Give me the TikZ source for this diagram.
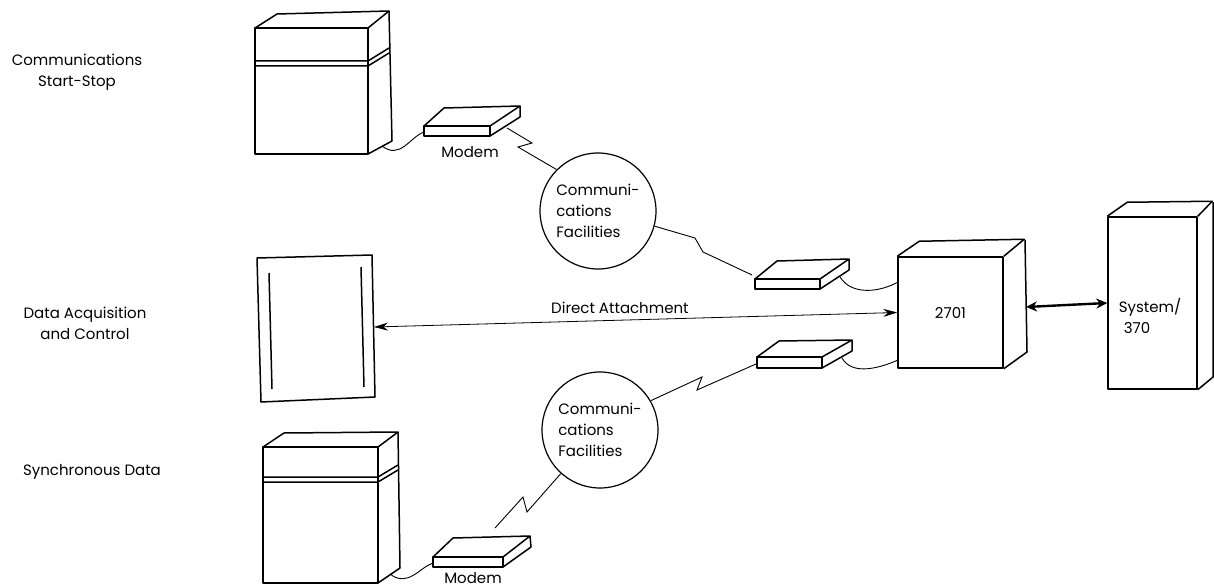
\documentclass[tikz,border=0pt]{standalone}
\usepackage{fontspec}
\setmainfont{Poppins}
\usetikzlibrary{arrows.meta}

\begin{document}
\begin{tikzpicture}[x=1pt,y=-1pt,
        unit/.style={line width=1.5pt,line join=round},
        cable/.style={line width=0.9pt},
        bolt/.style={line width=0.9pt},
        txt/.style={font=\fontsize{15}{21}\selectfont},
        lbl/.style={txt,align=center},
        facility/.style={circle,draw,line width=1.2pt,minimum size=116pt,inner sep=0pt,
            align=left,txt}]
    \useasboundingbox (0,0) rectangle (1214,588);

    % terminal types on the left
    \node [lbl] (ss) at (77,72) {Communications\\Start-Stop};
    \node [lbl] (dac) at (85,323) {Data Acquisition\\and Control};
    \node [lbl] (sync) at (92,472) {Synchronous Data};

    % start-stop terminal
    \draw [unit] (255,28) rectangle (368,154);
    \draw [unit] (255,28)--(277,14)--(389,11)--(368,28);
    \draw [unit] (389,11)--(392,141)--(368,154);
    \draw [unit] (255,61)--(368,61)--(389,48) (255,66)--(368,66)--(389,53);
    \coordinate (t1) at (382,146);

    % data acquisition unit
    \draw [unit] (257,258)--(372,255)--(375,397)--(261,402)--cycle;
    \draw [unit] (269,273)--(272,389) (361,267)--(364,387);
    \coordinate (da) at (374,327);

    % synchronous terminal
    \draw [unit] (263,447) rectangle (378,583);
    \draw [unit] (263,447)--(284,433)--(398,432)--(378,447);
    \draw [unit] (398,432)--(400,568)--(378,583);
    \draw [unit] (263,477)--(378,477)--(398,465) (263,482)--(378,482)--(398,470);
    \coordinate (t3) at (390,574);

    % modems
    \draw [unit] (424,126) rectangle (490,136);
    \draw [unit] (424,126)--(444,108)--(520,106)--(490,126) (520,106)--(520,117)--(490,136);
    \node [lbl] (mlbl1) at (470,152) {Modem};
    \coordinate (m1w) at (424,132);
    \coordinate (m1e) at (507,128);

    \draw [unit] (755,279) rectangle (820,289);
    \draw [unit] (755,279)--(777,261)--(849,259)--(820,279) (849,259)--(849,270)--(820,289);
    \coordinate (m2w) at (752,275);
    \coordinate (m2e) at (840,277);

    \draw [unit] (757,357) rectangle (822,368);
    \draw [unit] (757,357)--(779,341)--(852,340)--(822,357) (852,340)--(852,351)--(822,368);
    \coordinate (m3w) at (756,364);
    \coordinate (m3e) at (842,358);

    \draw [unit] (433,557) rectangle (503,567);
    \draw [unit] (433,557)--(453,538)--(530,536)--(503,557) (530,536)--(531,547)--(503,567);
    \node [lbl] (mlbl4) at (473,578) {Modem};
    \coordinate (m4w) at (433,563);
    \coordinate (m4n) at (495,528);

    % communications facilities
    \node [facility] (cf1) at (598,211) {Communi-\\cations\\Facilities};
    \node [facility] (cf2) at (600,430) {Communi-\\cations\\Facilities};

    % 2701
    \node [draw,unit,minimum width=105pt,minimum height=111pt,txt] (u2701) at (950.5,312.5) {2701};
    \draw [unit] (u2701.north west)--++(22,-15)--++(105,-2)--(u2701.north east);
    \draw [unit] (1025,240)--(1027,352)--(u2701.south east);
    \coordinate (p2701a) at (898,282);
    \coordinate (p2701b) at (898,360);
    \coordinate (p2701e) at (1026,307);

    % System/370
    \node [draw,unit,minimum width=89pt,minimum height=172pt] (sys) at (1152.5,303) {};
    \draw [unit] (sys.north west)--++(20,-14)--++(85,-1)--(sys.north east);
    \draw [unit] (1213,202)--(1213,377)--(sys.south east);
    \node [txt,align=left] (syslbl) at (1150,316) {System/\\\hspace{5pt}370};

    % cables
    \draw [cable] (t1) .. controls (400,160) and (410,137) .. (m1w);
    \draw [cable] (t3) .. controls (408,588) and (420,567) .. (m4w);
    \draw [cable] (m2e) .. controls (852,296) and (880,292) .. (p2701a);
    \draw [cable] (m3e) .. controls (852,376) and (880,368) .. (p2701b);

    % lines
    \draw [bolt] (m1e)--(532,143)--(518,147)--(cf1.135);
    \draw [bolt] (cf1.-15)--(695,238)--(703,252)--(m2w);
    \draw [bolt] (cf2.30)--(702,377)--(697,390)--(m3w);
    \draw [bolt] (cf2.228)--(527,512)--(523,497)--(m4n);

    % attachments
    \draw [line width=0.8pt,{Stealth[length=14pt,width=8pt]}-{Stealth[length=14pt,width=8pt]}]
        (da) -- (u2701.west) node [pos=0.47,above=3pt,txt] (dlbl) {Direct Attachment};
    \draw [line width=2.4pt,{Stealth[length=11pt,width=10pt]}-{Stealth[length=11pt,width=10pt]}]
        (p2701e) -- (sys.west);
\end{tikzpicture}
\end{document}
